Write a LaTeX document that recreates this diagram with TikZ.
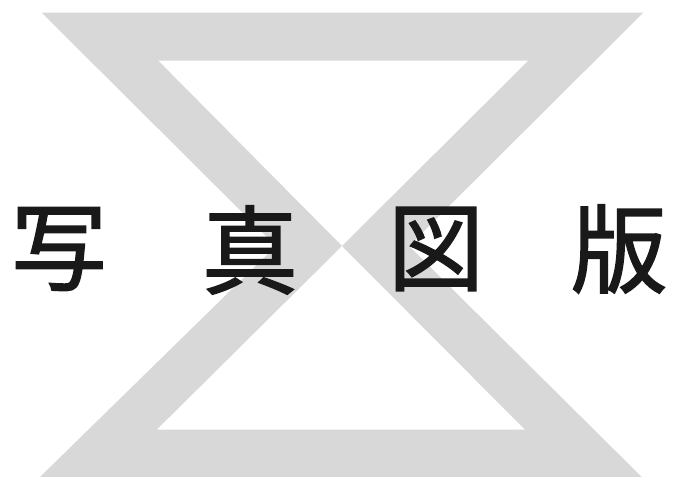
\documentclass[tikz,border=0pt]{standalone}
\usepackage{fontspec}
\newfontfamily\cjk[FakeBold=1.6]{Noto Sans CJK JP}
\definecolor{bandgray}{RGB}{216,216,216}
\begin{document}
\begin{tikzpicture}[x=1pt,y=-1pt,
  glyph/.style={font=\cjk\fontsize{96}{96}\selectfont, inner sep=0pt, text=black!90, anchor=center}]
\useasboundingbox (0,0) rectangle (681,478);
% hourglass band
\fill[bandgray, even odd rule]
  (41.7,12.7) -- (643.3,12.7) -- (409,246) -- (641.7,477) -- (40,477) -- (276,246) -- cycle
  (158.3,60.7) -- (528.3,60.7) -- (342,246) -- cycle
  (156.7,429.7) -- (525,429.7) -- (342,246) -- cycle;
% title characters
\node[glyph] (c1) at (59,249) {写};
\node[glyph] (c2) at (250,250) {真};
\node[glyph] (c3) at (436,249) {図};
\node[glyph] (c4) at (619,249) {版};
\end{tikzpicture}
\end{document}
